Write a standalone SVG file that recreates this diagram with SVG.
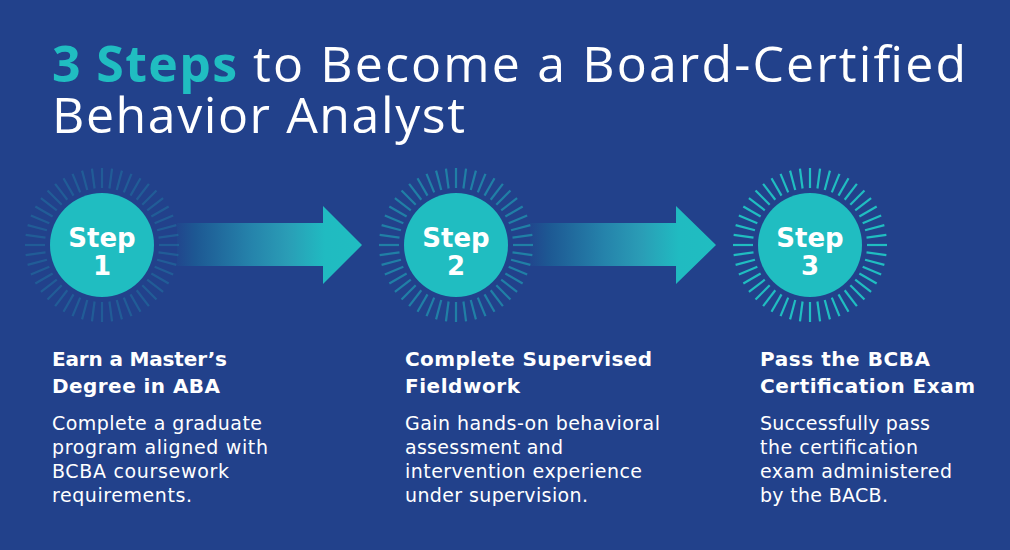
<svg xmlns="http://www.w3.org/2000/svg" xmlns:xlink="http://www.w3.org/1999/xlink" width="1010" height="550" viewBox="0 0 1010 550">
<style>
.title{font-family:"Open Sans","Liberation Sans",sans-serif;font-size:50px;fill:#ffffff;font-weight:400}
.hl{fill:#20bdc1;font-weight:700}
.head{font-family:"DejaVu Sans","Open Sans",sans-serif;font-size:20px;fill:#ffffff;font-weight:700}
.body{font-family:"DejaVu Sans","Open Sans",sans-serif;font-size:19px;fill:#ffffff;font-weight:400}
.step{font-family:"DejaVu Sans","Open Sans",sans-serif;font-size:26px;fill:#ffffff;font-weight:700;text-anchor:middle}
.disc{fill:#20bdc1}
.ray{stroke:#20bdc1;stroke-width:2.2}
</style>
<defs>
<linearGradient id="ag1" gradientUnits="userSpaceOnUse" x1="177" y1="0" x2="362" y2="0">
<stop offset="0" stop-color="#21468d"/>
<stop offset="0.1" stop-color="#1d5893"/>
<stop offset="0.4" stop-color="#2583ab"/>
<stop offset="0.6" stop-color="#2a9db6"/>
<stop offset="0.8" stop-color="#20bbc1"/>
<stop offset="1" stop-color="#20bdc1"/>
</linearGradient>
<linearGradient id="ag2" gradientUnits="userSpaceOnUse" x1="530" y1="0" x2="716" y2="0">
<stop offset="0" stop-color="#21468d"/>
<stop offset="0.1" stop-color="#1d5893"/>
<stop offset="0.4" stop-color="#2583ab"/>
<stop offset="0.6" stop-color="#2a9db6"/>
<stop offset="0.8" stop-color="#20bbc1"/>
<stop offset="1" stop-color="#20bdc1"/>
</linearGradient>
<g id="rays" class="ray">
<line x1="0" y1="-57" x2="0" y2="-77"/>
<line x1="0" y1="-57" x2="0" y2="-77" transform="rotate(7.5)"/>
<line x1="0" y1="-57" x2="0" y2="-77" transform="rotate(15)"/>
<line x1="0" y1="-57" x2="0" y2="-77" transform="rotate(22.5)"/>
<line x1="0" y1="-57" x2="0" y2="-77" transform="rotate(30)"/>
<line x1="0" y1="-57" x2="0" y2="-77" transform="rotate(37.5)"/>
<line x1="0" y1="-57" x2="0" y2="-77" transform="rotate(45)"/>
<line x1="0" y1="-57" x2="0" y2="-77" transform="rotate(52.5)"/>
<line x1="0" y1="-57" x2="0" y2="-77" transform="rotate(60)"/>
<line x1="0" y1="-57" x2="0" y2="-77" transform="rotate(67.5)"/>
<line x1="0" y1="-57" x2="0" y2="-77" transform="rotate(75)"/>
<line x1="0" y1="-57" x2="0" y2="-77" transform="rotate(82.5)"/>
<line x1="0" y1="-57" x2="0" y2="-77" transform="rotate(90)"/>
<line x1="0" y1="-57" x2="0" y2="-77" transform="rotate(97.5)"/>
<line x1="0" y1="-57" x2="0" y2="-77" transform="rotate(105)"/>
<line x1="0" y1="-57" x2="0" y2="-77" transform="rotate(112.5)"/>
<line x1="0" y1="-57" x2="0" y2="-77" transform="rotate(120)"/>
<line x1="0" y1="-57" x2="0" y2="-77" transform="rotate(127.5)"/>
<line x1="0" y1="-57" x2="0" y2="-77" transform="rotate(135)"/>
<line x1="0" y1="-57" x2="0" y2="-77" transform="rotate(142.5)"/>
<line x1="0" y1="-57" x2="0" y2="-77" transform="rotate(150)"/>
<line x1="0" y1="-57" x2="0" y2="-77" transform="rotate(157.5)"/>
<line x1="0" y1="-57" x2="0" y2="-77" transform="rotate(165)"/>
<line x1="0" y1="-57" x2="0" y2="-77" transform="rotate(172.5)"/>
<line x1="0" y1="-57" x2="0" y2="-77" transform="rotate(180)"/>
<line x1="0" y1="-57" x2="0" y2="-77" transform="rotate(187.5)"/>
<line x1="0" y1="-57" x2="0" y2="-77" transform="rotate(195)"/>
<line x1="0" y1="-57" x2="0" y2="-77" transform="rotate(202.5)"/>
<line x1="0" y1="-57" x2="0" y2="-77" transform="rotate(210)"/>
<line x1="0" y1="-57" x2="0" y2="-77" transform="rotate(217.5)"/>
<line x1="0" y1="-57" x2="0" y2="-77" transform="rotate(225)"/>
<line x1="0" y1="-57" x2="0" y2="-77" transform="rotate(232.5)"/>
<line x1="0" y1="-57" x2="0" y2="-77" transform="rotate(240)"/>
<line x1="0" y1="-57" x2="0" y2="-77" transform="rotate(247.5)"/>
<line x1="0" y1="-57" x2="0" y2="-77" transform="rotate(255)"/>
<line x1="0" y1="-57" x2="0" y2="-77" transform="rotate(262.5)"/>
<line x1="0" y1="-57" x2="0" y2="-77" transform="rotate(270)"/>
<line x1="0" y1="-57" x2="0" y2="-77" transform="rotate(277.5)"/>
<line x1="0" y1="-57" x2="0" y2="-77" transform="rotate(285)"/>
<line x1="0" y1="-57" x2="0" y2="-77" transform="rotate(292.5)"/>
<line x1="0" y1="-57" x2="0" y2="-77" transform="rotate(300)"/>
<line x1="0" y1="-57" x2="0" y2="-77" transform="rotate(307.5)"/>
<line x1="0" y1="-57" x2="0" y2="-77" transform="rotate(315)"/>
<line x1="0" y1="-57" x2="0" y2="-77" transform="rotate(322.5)"/>
<line x1="0" y1="-57" x2="0" y2="-77" transform="rotate(330)"/>
<line x1="0" y1="-57" x2="0" y2="-77" transform="rotate(337.5)"/>
<line x1="0" y1="-57" x2="0" y2="-77" transform="rotate(345)"/>
<line x1="0" y1="-57" x2="0" y2="-77" transform="rotate(352.5)"/>
</g>
</defs>
<rect x="0" y="0" width="1010" height="550" fill="#22418b"/>

<g id="title">
<text class="title"><tspan class="hl" x="52" y="82" textLength="185">3 Steps</tspan><tspan x="253" y="82" textLength="713">to Become a Board-Certified</tspan><tspan x="52" y="133" textLength="413">Behavior Analyst</tspan></text>
</g>

<g id="connectors">
<polygon points="177,223 323,223 323,206 362,245 323,284 323,266 177,266" fill="url(#ag1)"/>
<polygon points="530,223 676,223 676,206 716,245 676,284 676,266 530,266" fill="url(#ag2)"/>
</g>

<g id="step1">
<use xlink:href="#rays" href="#rays" transform="translate(102,245)" opacity="0.22"/>
<circle class="disc" cx="102" cy="245" r="52"/>
<text class="step" x="102" y="247">Step</text>
<text class="step" x="102" y="275">1</text>
<text class="head" x="52" y="366" textLength="175">Earn a Master’s</text>
<text class="head" x="52" y="393" textLength="168">Degree in ABA</text>
<text class="body" x="52" y="430" textLength="210">Complete a graduate</text>
<text class="body" x="52" y="454" textLength="216">program aligned with</text>
<text class="body" x="52" y="478" textLength="177">BCBA coursework</text>
<text class="body" x="52" y="502" textLength="140">requirements.</text>
</g>

<g id="step2">
<use xlink:href="#rays" href="#rays" transform="translate(456,245)" opacity="0.5"/>
<circle class="disc" cx="456" cy="245" r="52"/>
<text class="step" x="456" y="247">Step</text>
<text class="step" x="456" y="275">2</text>
<text class="head" x="405" y="366" textLength="247">Complete Supervised</text>
<text class="head" x="405" y="393" textLength="115">Fieldwork</text>
<text class="body" x="405" y="430" textLength="255">Gain hands-on behavioral</text>
<text class="body" x="405" y="454" textLength="158">assessment and</text>
<text class="body" x="405" y="478" textLength="237">intervention experience</text>
<text class="body" x="405" y="502" textLength="183">under supervision.</text>
</g>

<g id="step3">
<use xlink:href="#rays" href="#rays" transform="translate(810,245)" opacity="1"/>
<circle class="disc" cx="810" cy="245" r="52"/>
<text class="step" x="810" y="247">Step</text>
<text class="step" x="810" y="275">3</text>
<text class="head" x="760" y="366" textLength="170">Pass the BCBA</text>
<text class="head" x="760" y="393" textLength="215">Certification Exam</text>
<text class="body" x="760" y="430" textLength="170">Successfully pass</text>
<text class="body" x="760" y="454" textLength="158">the certification</text>
<text class="body" x="760" y="478" textLength="192">exam administered</text>
<text class="body" x="760" y="502" textLength="128">by the BACB.</text>
</g>
</svg>
